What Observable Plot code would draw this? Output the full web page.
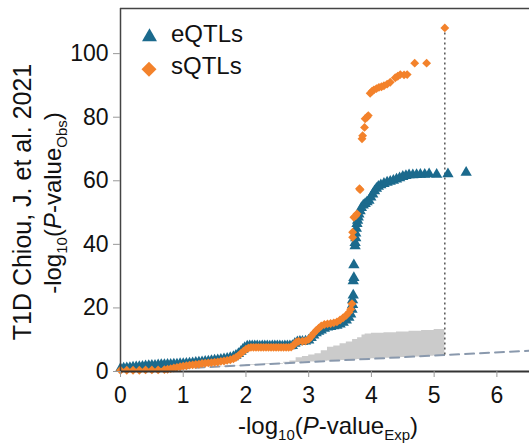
<!DOCTYPE html>
<html>
<head>
<meta charset="utf-8">
<script src="https://cdn.jsdelivr.net/npm/d3@7"></script>
<script src="https://cdn.jsdelivr.net/npm/@observablehq/plot@0.6"></script>
<style>
  html, body { margin: 0; padding: 0; background: white; }
  #chart svg { display: block; }
</style>
</head>
<body>
<div id="chart"></div>
<script>
// ---- Data ----
const seriesNames = ["eQTLs", "sQTLs"];
const seriesColors = ["#1b6a8d", "#f3822b"];

const eqtlX = [0.00,0.05,0.10,0.15,0.20,0.25,0.30,0.35,0.40,0.45,0.50,0.55,0.60,0.65,0.70,0.75,0.80,0.85,0.90,0.95,1.00,1.05,1.10,1.15,1.20,1.25,1.30,1.35,1.40,1.45,1.50,1.55,1.60,1.65,1.70,1.75,1.80,
  1.84,1.88,1.92,1.95,1.98,2.02,
  2.06,2.10,2.14,2.18,2.22,2.26,2.30,2.34,2.38,2.42,2.46,2.50,2.54,2.58,2.62,2.66,2.70,2.74,
  2.78,2.82,2.86,2.90,2.95,3.00,
  3.04,3.08,3.12,3.16,3.20,
  3.25,3.30,3.35,3.40,3.45,3.50,3.55,3.60,
  3.64,3.67,3.69,
  3.70,3.70,3.71,3.71,3.72,3.72,3.74,3.74,3.75,3.75,3.76,3.77,3.78,3.79,3.80,
  3.82,3.84,3.87,3.90,3.93,3.96,3.99,
  4.02,4.05,4.08,4.11,4.15,
  4.20,4.25,4.30,4.35,4.40,4.45,4.50,4.55,4.60,
  4.66,4.72,4.78,4.85,4.92,5.04,5.22,5.51];
const eqtlY = [0.9,1.0,1.1,1.2,1.3,1.4,1.5,1.6,1.7,1.8,1.9,1.9,2.0,2.1,2.1,2.2,2.2,2.3,2.3,2.4,2.4,2.5,2.6,2.7,2.8,2.9,3.0,3.1,3.2,3.4,3.5,3.6,3.8,3.9,4.1,4.3,4.6,
  5.0,5.6,6.3,6.9,7.5,7.9,
  8.0,8.0,8.0,8.0,7.9,8.0,8.0,8.0,7.9,8.0,8.0,8.0,8.0,7.9,8.0,8.0,8.0,8.1,
  8.8,9.3,9.4,9.4,9.5,9.8,
  10.6,11.4,12.1,12.6,13.0,
  13.5,13.9,14.1,14.3,14.5,14.9,15.4,16.1,
  17.0,18.0,19.5,
  21.0,22.5,24.0,28.5,29.5,33.5,39.5,40.5,42.0,43.5,45.0,46.5,47.5,48.5,49.5,
  50.5,51.5,52.3,52.8,53.3,53.8,54.8,
  55.8,56.8,57.6,58.2,58.7,
  59.1,59.5,59.8,60.1,60.5,60.9,61.3,61.6,61.8,
  61.8,61.9,62.0,62.0,62.1,62.0,62.1,62.6];

const sqtlX = [0.00,0.10,0.20,0.30,0.40,0.50,0.60,0.70,
  0.75,0.80,0.85,0.90,0.95,1.00,1.05,1.10,1.15,1.20,1.25,1.30,1.35,1.40,1.45,1.50,1.55,1.60,1.65,1.70,1.75,1.80,
  1.84,1.88,1.92,1.96,
  2.00,2.04,2.08,2.12,2.16,2.20,2.24,2.28,2.32,2.36,2.40,2.44,2.48,2.52,2.56,2.60,2.64,2.68,2.72,
  2.76,2.80,2.84,2.90,2.95,3.00,
  3.04,3.08,3.12,3.16,3.20,
  3.25,3.30,3.35,3.40,3.45,3.50,3.55,3.60,
  3.64,3.67,3.69,
  3.70,3.70,3.72,3.75,3.77,3.81,3.82,
  3.85,3.86,3.89,3.90,3.93,3.95,3.98,
  4.01,4.04,4.08,4.12,4.16,4.20,4.25,4.30,4.38,4.42,4.46,4.52,4.57,4.69,4.88,5.17];
const sqtlY = [0.4,0.4,0.4,0.4,0.5,0.5,0.5,0.6,
  0.7,0.9,1.1,1.3,1.5,1.7,1.8,2.0,2.1,2.2,2.3,2.5,2.6,2.7,2.8,2.9,3.0,3.2,3.3,3.5,3.7,4.0,
  4.4,5.0,5.7,6.4,
  7.0,7.4,7.6,7.6,7.6,7.6,7.6,7.6,7.6,7.6,7.6,7.6,7.6,7.6,7.6,7.6,7.6,7.6,7.7,
  8.3,9.2,9.5,9.5,9.6,10.1,
  11.0,12.0,12.9,13.6,14.3,
  14.8,15.0,15.1,15.3,15.6,16.2,16.9,17.7,
  18.6,19.6,21.3,
  42.2,43.8,48.5,49.0,49.6,57.5,57.2,
  73.2,74.2,76.8,79.5,80.0,80.5,87.5,
  88.2,88.6,89.0,89.4,89.6,89.9,90.4,91.0,92.4,92.9,93.4,93.3,93.4,97.0,97.0,108.1];

// Gray confidence band
const bandX    = [1.50,1.80,2.00,2.30,2.60,2.70,2.80,2.90,3.00,3.10,3.20,3.30,3.40,3.50,3.60,3.70,3.78,3.85,3.90,4.00,4.20,4.40,4.60,4.80,5.00,5.17];
const bandLow  = [1.5,1.8,2.0,2.3,2.6,2.7,2.8,2.9,3.0,3.1,3.2,3.3,3.4,3.5,3.6,3.7,3.78,3.85,3.9,4.0,4.2,4.4,4.6,4.8,5.0,5.17];
const bandHigh = [1.6,1.9,2.2,2.5,2.9,3.3,4.3,4.7,5.2,5.6,6.5,7.6,8.0,8.7,9.3,10.1,10.6,11.5,11.8,12.0,12.2,12.4,12.7,12.9,13.2,13.4];

// Expected diagonal (y = x) and the dotted marker line
const diagX = [0, 7];
const diagY = [0, 7];
const markerX = [5.17];
const markerY1 = [5.17];
const markerY2 = [108.1];

const xTicks = [0, 1, 2, 3, 4, 5, 6];
const yTicks = [0, 20, 40, 60, 80, 100];
const xDomain = [0, 6.52];
const yDomain = [0, 114.2];

// ---- Build tables ----
const eqtl = eqtlX.map((x, i) => ({x, y: eqtlY[i]}));
const sqtl = sqtlX.map((x, i) => ({x, y: sqtlY[i]}));
const band = bandX.map((x, i) => ({x, lo: bandLow[i], hi: bandHigh[i]}));
const diag = diagX.map((x, i) => ({x, y: diagY[i]}));
const marker = markerX.map((x, i) => ({x, y1: markerY1[i], y2: markerY2[i]}));

const font = "'Liberation Sans', Arial, Helvetica, sans-serif";

const chart = Plot.plot({
  width: 529,
  height: 446,
  marginTop: 8,
  marginBottom: 75,
  marginLeft: 120,
  marginRight: 0,
  x: {domain: xDomain},
  y: {domain: yDomain},
  style: {fontFamily: font, fontSize: "23px", background: "white", color: "#111"},
  marks: [
    Plot.areaY(band, {x: "x", y1: "lo", y2: "hi", curve: "step-after", fill: "#cbcbcb"}),
    Plot.line(diag, {x: "x", y: "y", stroke: "#8a99ad", strokeWidth: 2, strokeDasharray: "9,6", clip: true}),
    Plot.ruleX(marker, {x: "x", y1: "y1", y2: "y2", stroke: "#555", strokeWidth: 1.5, strokeDasharray: "2,3"}),
    Plot.dot(eqtl, {x: "x", y: "y", symbol: "triangle", r: 4.2, fill: seriesColors[0]}),
    Plot.dot(sqtl, {x: "x", y: "y", symbol: "diamond2", r: 4, fill: seriesColors[1]}),
    Plot.ruleY([yDomain[1]], {stroke: "#444", strokeWidth: 1.5}),
    Plot.ruleX([xDomain[0]], {stroke: "#444", strokeWidth: 1.5}),
    Plot.ruleY([yDomain[0]], {stroke: "#333", strokeWidth: 2}),
    Plot.axisX({ticks: xTicks, tickFormat: "d", tickSize: 6, tickPadding: 9, label: null, stroke: "#999", fill: "#111"}),
    Plot.axisY({ticks: yTicks, tickFormat: "d", tickSize: 7, tickPadding: 5, label: null, stroke: "#999", fill: "#111"})
  ]
});

document.getElementById("chart").appendChild(chart);

// ---- Axis titles (with subscript / italic) and legend ----
const svg = d3.select(chart);

function subLabel(g, sub) {
  g.append("tspan").text("-log");
  g.append("tspan").attr("font-size", 15).attr("dy", 6).text("10");
  g.append("tspan").attr("dy", -6).text("(");
  g.append("tspan").attr("font-style", "italic").text("P");
  g.append("tspan").text("-value");
  g.append("tspan").attr("font-size", 15).attr("dy", 6).text(sub);
  g.append("tspan").attr("dy", -6).text(")");
}

const xt = svg.append("text")
  .attr("x", 328).attr("y", 434)
  .attr("text-anchor", "middle")
  .attr("font-family", font).attr("font-size", 24).attr("fill", "#111");
subLabel(xt, "Exp");

svg.append("text")
  .attr("transform", "translate(31,202) rotate(-90)")
  .attr("text-anchor", "middle")
  .attr("font-family", font).attr("font-size", 25).attr("fill", "#111")
  .text("T1D Chiou, J. et al. 2021");

const yt = svg.append("text")
  .attr("transform", "translate(61,203) rotate(-90)")
  .attr("text-anchor", "middle")
  .attr("font-family", font).attr("font-size", 24).attr("fill", "#111");
subLabel(yt, "Obs");

const legend = svg.append("g").attr("text-anchor", "start");
legend.append("path")
  .attr("d", d3.symbol(d3.symbolTriangle, 97)())
  .attr("transform", "translate(149.5,37)")
  .attr("fill", seriesColors[0]);
legend.append("path")
  .attr("d", d3.symbol(d3.symbolDiamond2, 143)())
  .attr("transform", "translate(149,69.3)")
  .attr("fill", seriesColors[1]);
legend.append("text").attr("x", 171).attr("y", 42).attr("text-anchor", "start")
  .attr("font-family", font).attr("font-size", 24).attr("fill", "#111").text(seriesNames[0]);
legend.append("text").attr("x", 171).attr("y", 74).attr("text-anchor", "start")
  .attr("font-family", font).attr("font-size", 24).attr("fill", "#111").text(seriesNames[1]);
</script>
</body>
</html>
